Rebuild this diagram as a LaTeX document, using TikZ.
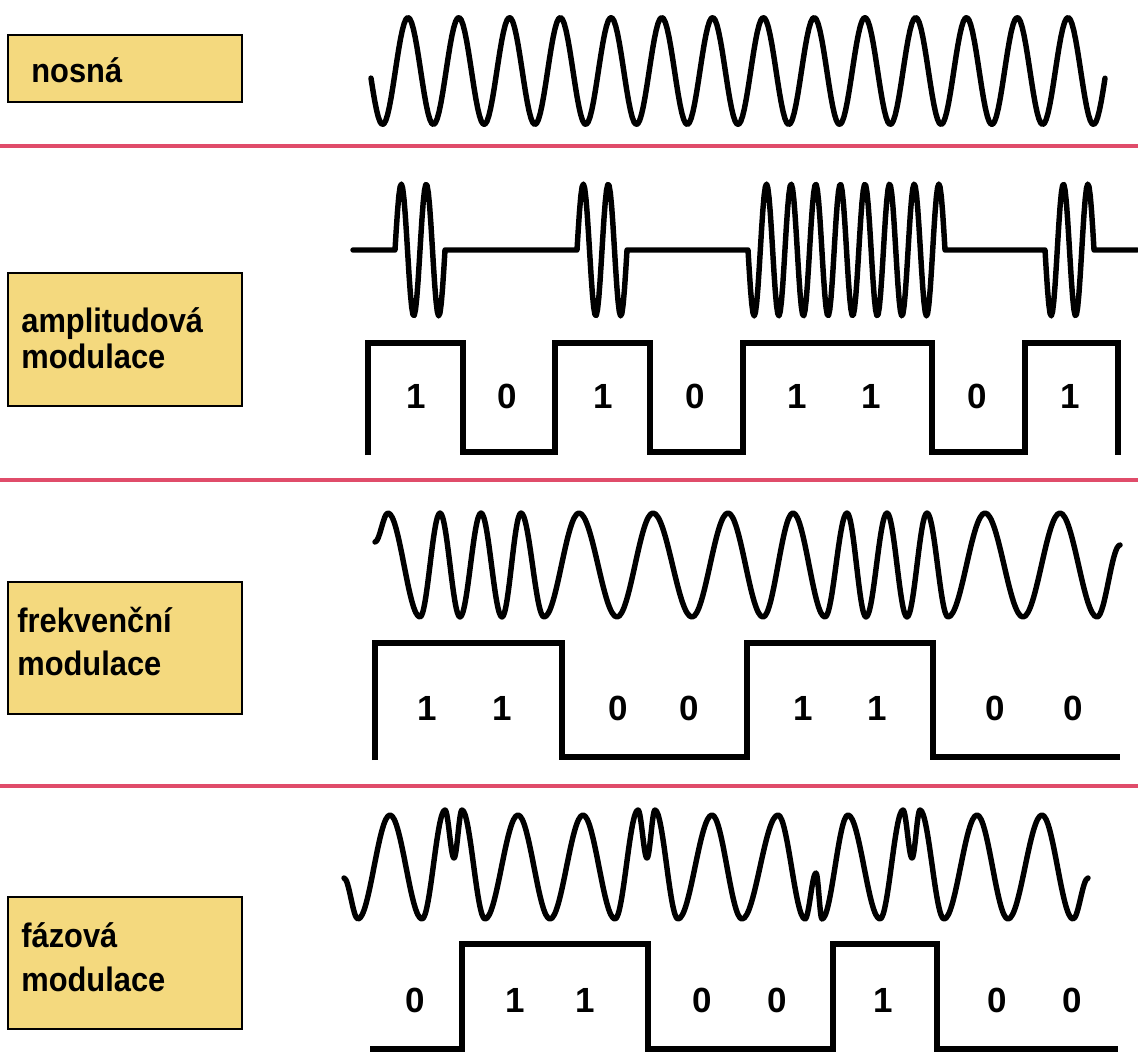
\documentclass[tikz,border=0pt]{standalone}
\usepackage{fontspec}
\setmainfont{Liberation Sans}
\newfontfamily\labelfont[FakeStretch=0.91]{Liberation Sans}
\usepackage{tikz}
\definecolor{boxYellow}{HTML}{F4D97E}
\definecolor{sepRed}{HTML}{E04C6A}
\tikzset{wave/.style={draw, line width=3.1pt, black, line join=round, line cap=round}}
\tikzset{sq/.style={draw, line width=3.1pt, black, line join=miter}}
\tikzset{sep/.style={draw, line width=1.8pt, sepRed}}
\tikzset{lbox/.style={rectangle, draw, line width=0.9pt, fill=boxYellow,
  minimum width=4.68cm, inner sep=0pt}}
\tikzset{ltext/.style={anchor=base west, inner sep=0pt,
  font=\labelfont\bfseries\fontsize{19.3}{23}\selectfont}}
\tikzset{bit/.style={inner sep=0pt, font=\bfseries\fontsize{19.9}{24}\selectfont}}

\begin{document}
\begin{tikzpicture}[x=0.02cm, y=-0.02cm]
        \tikzstyle{every node}=[text=black]
        \fill[white] (0,0) rectangle (1138,1052);
        \useasboundingbox (0,0) rectangle (1138,1052);
        %% separators
        \draw[sep] (0,146) -- (1138,146);
        \draw[sep] (0,480) -- (1138,480);
        \draw[sep] (0,786) -- (1138,786);
        %% nosna
        \node[lbox, minimum height=1.34cm] (nosna) at (125,68.5) {};
        \node[ltext] (nosnaT) at (31,82) {nosná};
        \draw[wave] plot[domain=371:1105, samples=400]
            (\x, {71-53.5*cos(7.0908*(\x-408))});
        %% amplitudova
        \node[lbox, minimum height=2.66cm] (am) at (125,339.5) {};
        \node[ltext] (amT1) at (21,332) {amplitudová};
        \node[ltext] (amT2) at (21,368) {modulace};
        \draw[wave] (353,250) -- (395,250)
            -- plot[domain=395:445, samples=40] (\x, {250-66*sin(14.4*(\x-395))})
            -- (577,250)
            -- plot[domain=577:627, samples=40] (\x, {250-66*sin(14.4*(\x-577))})
            -- (748,250)
            -- plot[domain=748:945, samples=160] (\x, {250+66*sin(14.6193*(\x-748))})
            -- (1045,250)
            -- plot[domain=1045:1094, samples=40] (\x, {250+66*sin(14.6939*(\x-1045))})
            -- (1137,250);
        \draw[sq] (368,455) -- (368,343) -- (463,343) -- (463,452) -- (555,452)
            -- (555,343) -- (650,343) -- (650,452) -- (743,452) -- (743,343)
            -- (932,343) -- (932,452) -- (1025,452) -- (1025,343) -- (1118,343)
            -- (1118,455);
        \foreach \x/\b [count=\i] in {416/1,507/0,603/1,695/0,797/1,871/1,977/0,1070/1}
            \node[bit] (am\i) at (\x,396) {\b};
        %% frekvencni
        \node[lbox, minimum height=2.64cm] (fm) at (125,648) {};
        \node[ltext] (fmT1) at (17,632) {frekvenční};
        \node[ltext] (fmT2) at (17,675) {modulace};
        \draw[wave] (375,542)
            \foreach \xb/\yb [remember=\xb as \xa (initially 375),
                              remember=\yb as \ya (initially 542)] in
            {388/513,420/617,440/513,460/617,481/513,502/617,521/513,544/617,
             579/513,617/617,653/513,692/617,728/513,763/617,793/513,825/617,
             847/513,866/617,887/513,907/617,927/513,948/617,985/513,1023/617,
             1060/513,1097/617,1120/545}
            { .. controls ({\xa+0.3634*(\xb-\xa)},\ya) and ({\xb-0.3634*(\xb-\xa)},\yb) .. (\xb,\yb) };
        \draw[sq] (375,760) -- (375,643) -- (562,643) -- (562,757) -- (747,757)
            -- (747,643) -- (933,643) -- (933,757) -- (1120,757);
        \foreach \x/\b [count=\i] in {427/1,502/1,618/0,689/0,803/1,877/1,995/0,1073/0}
            \node[bit] (fm\i) at (\x,708) {\b};
        %% fazova
        \node[lbox, minimum height=2.64cm] (pm) at (125,963) {};
        \node[ltext] (pmT1) at (21,947) {fázová};
        \node[ltext] (pmT2) at (21,991) {modulace};
        \draw[wave] (344,878)
            \foreach \xb/\yb [remember=\xb as \xa (initially 344),
                              remember=\yb as \ya (initially 878)] in
            {358/919,390/815,422/919,445/810,454/858,462/810,485/919,518/815,
             550/919,583/815,615/919,638/810,647/858,655/810,678/919,712/815,
             742/919,778/815,805/919,816/873,822/919,848/815,880/919,903/810,
             912/858,920/810,944/919,977/815,1008/919,1042/815,1073/919,1088/878}
            { .. controls ({\xa+0.3634*(\xb-\xa)},\ya) and ({\xb-0.3634*(\xb-\xa)},\yb) .. (\xb,\yb) };
        \draw[sq] (370,1049) -- (462,1049) -- (462,944) -- (648,944) -- (648,1049)
            -- (833,1049) -- (833,944) -- (937,944) -- (937,1049) -- (1118,1049);
        \foreach \x/\b [count=\i] in {415/0,515/1,585/1,702/0,777/0,883/1,997/0,1072/0}
            \node[bit] (pm\i) at (\x,1000) {\b};
\end{tikzpicture}
\end{document}
